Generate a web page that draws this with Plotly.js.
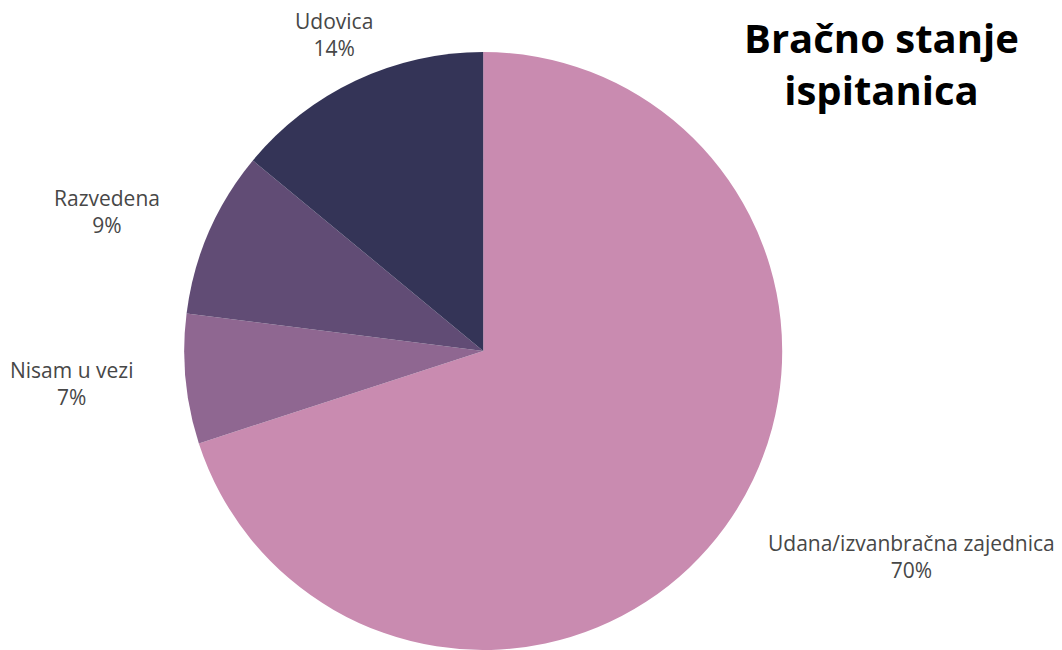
<!DOCTYPE html>
<html><head><meta charset="utf-8">
<script src="https://cdn.plot.ly/plotly-3.0.1.min.js"></script>
<style>html,body{margin:0;padding:0;background:#fff;}#chart{width:1062px;height:650px;}</style>
</head><body><div id="chart"></div>
<script>
const labels = ["Udana/izvanbračna zajednica", "Nisam u vezi", "Razvedena", "Udovica"];
const values = [70, 7, 9, 14];
const colors = ["#C98BB0", "#8F6791", "#614C75", "#343457"];

const W = 1062, H = 650;
const dom = {x: [0.17, 0.74], y: [0.0, 0.92]};
const cx = (dom.x[0] + dom.x[1]) / 2, cy = (dom.y[0] + dom.y[1]) / 2;
const labelR = 350; // px distance from centre for outside labels

const total = values.reduce((a, b) => a + b, 0);
let cum = 0;
const annotations = values.map((v, i) => {
  const mid = (cum + v / 2) / total * 2 * Math.PI; // clockwise from 12 o'clock
  cum += v;
  const s = Math.sin(mid), c = Math.cos(mid);
  return {
    xref: 'paper', yref: 'paper',
    x: cx + labelR * s / W,
    y: cy + labelR * c / H,
    xanchor: s > 0.5 ? 'left' : (s < -0.5 ? 'right' : 'center'),
    yanchor: 'middle',
    text: labels[i] + '<br>' + Math.round(v / total * 100) + '%',
    showarrow: false,
    align: 'center',
    font: {family: 'Open Sans', size: 21, color: '#474747'}
  };
});

Plotly.newPlot('chart', [{
  type: 'pie',
  labels: labels,
  values: values,
  sort: false,
  direction: 'clockwise',
  rotation: 0,
  marker: {colors: colors, line: {width: 0}},
  textinfo: 'none',
  domain: dom,
  hoverinfo: 'none'
}], {
  width: W, height: H,
  margin: {l: 0, r: 0, t: 0, b: 0},
  showlegend: false,
  paper_bgcolor: '#ffffff',
  annotations: annotations,
  title: {
    text: '<b>Bračno stanje<br>ispitanica</b>',
    font: {family: 'Open Sans', size: 40, color: '#000000'},
    x: 0.83, xanchor: 'center', y: 0.918, yanchor: 'top'
  }
}, {displayModeBar: false});
</script></body></html>
